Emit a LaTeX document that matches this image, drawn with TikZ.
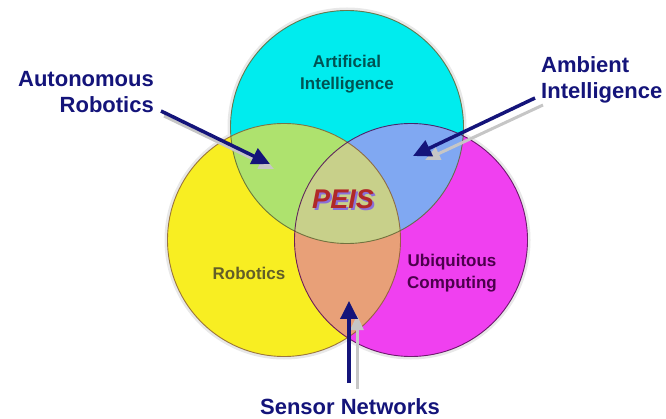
\documentclass[tikz,border=0pt]{standalone}
\usepackage{fontspec}
\setmainfont{Liberation Sans}
\usetikzlibrary{arrows.meta, calc}
\definecolor{CCyan}{HTML}{00ECEE}
\definecolor{CYellow}{HTML}{F8EE22}
\definecolor{CMagenta}{HTML}{F040F0}
\definecolor{CGreen}{HTML}{AEE26E}
\definecolor{CBlue}{HTML}{80A8F2}
\definecolor{COrange}{HTML}{E8A078}
\definecolor{CCenter}{HTML}{C8D08A}
\definecolor{CNavy}{HTML}{14147A}
\definecolor{CRed}{HTML}{B02828}
\definecolor{CShade}{HTML}{8A70D8}

\begin{document}
\begin{tikzpicture}[
    x=1pt, y=-1pt,
    ring/.style={line width=0.9pt, opacity=0.8},
    halo/.style={gray!18, line width=6pt},
    set text/.style={font=\bfseries\fontsize{17}{22}\selectfont, align=center, inner sep=0pt},
    call text/.style={font=\bfseries\fontsize{22}{26}\selectfont, text=CNavy, inner sep=0pt},
    call arrow/.style={CNavy, line width=3.5pt, -{Triangle[length=18pt, width=17pt]}},
    call shadow/.style={gray!45, line width=3pt, -{Triangle[length=15pt, width=13pt]}}
]
    \useasboundingbox (0,0) rectangle (666,419);

    % === CIRCLE GEOMETRY ===
    \def\rad{116.5}
    \coordinate (CenAI) at (347,127);
    \coordinate (CenRob) at (284,240);
    \coordinate (CenUbi) at (411,240);

    % soft grey halo round the set
    \draw[halo] (CenAI) circle (\rad);
    \draw[halo] (CenRob) circle (\rad);
    \draw[halo] (CenUbi) circle (\rad);

    % === BASE FILLS ===
    \fill[CYellow] (CenRob) circle (\rad);
    \fill[CMagenta] (CenUbi) circle (\rad);
    \fill[CCyan] (CenAI) circle (\rad);

    % === OVERLAPS ===
    \begin{scope}
        \clip (CenRob) circle (\rad);
        \fill[COrange] (CenUbi) circle (\rad);
    \end{scope}
    \begin{scope}
        \clip (CenAI) circle (\rad);
        \fill[CGreen] (CenRob) circle (\rad);
        \fill[CBlue] (CenUbi) circle (\rad);
    \end{scope}
    \begin{scope}
        \clip (CenAI) circle (\rad);
        \clip (CenRob) circle (\rad);
        \fill[CCenter] (CenUbi) circle (\rad);
    \end{scope}

    % === OUTLINES ===
    \draw[ring, draw=olive!60!black] (CenAI) circle (\rad);
    \draw[ring, draw=brown!70!black] (CenRob) circle (\rad);
    \draw[ring, draw=violet!60!black] (CenUbi) circle (\rad);

    % === SET LABELS ===
    \node[set text, text=teal!65!black] (LblAI) at (347,74) {Artificial\\Intelligence};
    \node[set text, text=olive!60!black] (LblRob) at (249,273) {Robotics};
    \node[set text, text=violet!60!black] (LblUbi) at (452,273) {Ubiquitous\\Computing};

    % PEIS, shadow set under the letters
    \node[font=\bfseries\itshape\fontsize{27}{27}\selectfont, text=CRed, inner sep=0pt] (Peis) at (343,200)
        {\rlap{\hspace{2pt}\raisebox{-2pt}{\color{CShade}PEIS}}PEIS};

    % === CALLOUTS ===
    \node[call text, anchor=east, align=right] (LblAuto) at (154,92) {Autonomous\\Robotics};
    \node[call text, anchor=west, align=left] (LblAmb) at (541,80) {Ambient\\Intelligence};
    \node[call text] (LblSens) at (350,407) {Sensor Networks};

    \coordinate (AutoTail) at (161,111);
    \coordinate (AutoTip) at (270,164);
    \coordinate (AmbTail) at (535,98);
    \coordinate (AmbTip) at (413,156);
    \coordinate (SensTail) at (349,383);
    \coordinate (SensTip) at (349,301);

    % grey shadows first
    \draw[call shadow] ($(AutoTail)+(3,5)$) -- ($(AutoTip)+(4,5)$);
    \draw[call shadow] ($(AmbTail)+(8,7)$) -- ($(AmbTip)+(12,4)$);
    \draw[call shadow] ($(SensTail)+(8,6)$) -- ($(SensTip)+(8,14)$);

    \draw[call arrow] (AutoTail) -- (AutoTip);
    \draw[call arrow] (AmbTail) -- (AmbTip);
    \draw[call arrow] (SensTail) -- (SensTip);

\end{tikzpicture}
\end{document}
